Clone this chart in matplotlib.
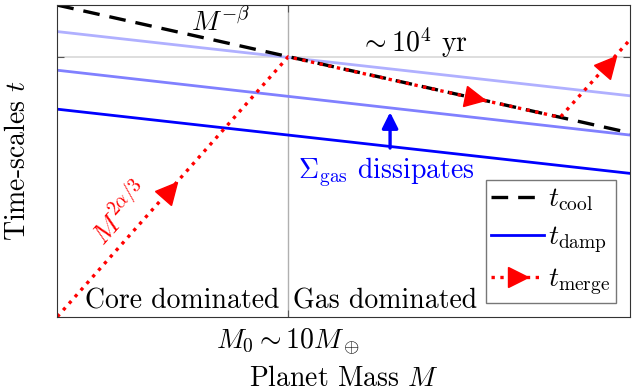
import numpy as np
import matplotlib
matplotlib.use("Agg")
import matplotlib.pyplot as plt
from matplotlib.markers import MarkerStyle
from matplotlib.transforms import Affine2D

plt.rcParams['font.family'] = 'serif'
plt.rcParams['font.serif'] = ['cmr10']
plt.rcParams['mathtext.fontset'] = 'cm'
plt.rcParams['axes.unicode_minus'] = False
plt.rcParams['axes.formatter.use_mathtext'] = True

# schematic values (log axes drawn as linear 0..1)
x_m0 = 0.403
t_ref = 0.834

x_cool = [0.0, 1.0]
t_cool = [1.0, 0.59]

x_damp = [0.0, 1.0]
t_damp_light = [0.915, 0.709]
t_damp_mid = [0.791, 0.583]
t_damp = [0.666, 0.460]

x_merge = [0.0, 0.403, 0.878, 0.9965]
t_merge = [0.0, 0.834, 0.640, 0.882]

x_arrows = [0.197, 0.729, 0.963]
t_arrows = [0.407, 0.701, 0.812]
seg_idx = [0, 1, 2]

x_sigma = 0.581

fig = plt.figure(figsize=(6.39, 3.92), dpi=100)
ax = fig.add_axes([0.0897, 0.192, 0.8963, 0.795])
ax.set_xlim(0, 1)
ax.set_ylim(0, 1)

ax.axvline(x_m0, color='#b0b0b0', lw=1, zorder=0)
ax.axhline(t_ref, color='#d8d8d8', lw=1.2, zorder=0)

ax.plot(x_damp, t_damp_light, color='#b0b0ff', lw=2)
ax.plot(x_damp, t_damp_mid, color='#8080ff', lw=2)
l_damp, = ax.plot(x_damp, t_damp, color='blue', lw=2, label=r'$t_{\rm damp}$')
l_cool, = ax.plot(x_cool, t_cool, color='black', lw=2.4, dashes=(5, 3), label=r'$t_{\rm cool}$')
ax.plot(x_merge, t_merge, color='red', lw=2.4, ls=':')

# direction markers along the merge path
fig.canvas.draw()
for xa, ta, i in zip(x_arrows, t_arrows, seg_idx):
    p0 = ax.transData.transform((x_merge[i], t_merge[i]))
    p1 = ax.transData.transform((x_merge[i + 1], t_merge[i + 1]))
    ang = np.degrees(np.arctan2(p1[1] - p0[1], p1[0] - p0[0]))
    m = MarkerStyle('>', transform=Affine2D().rotate_deg(ang))
    ax.plot([xa], [ta], marker=m, color='red', ms=15, ls='none', zorder=5)

# legend proxy
l_merge, = ax.plot([], [], color='red', lw=2.4, ls=':', marker='>', ms=15,
                   label=r'$t_{\rm merge}$')

t_lo = t_damp[0] + (t_damp[1] - t_damp[0]) * x_sigma
ax.annotate('', xy=(x_sigma, t_lo + 0.11), xytext=(x_sigma, t_lo - 0.005),
            arrowprops=dict(arrowstyle='-|>', color='blue', lw=2.4,
                            mutation_scale=24, shrinkA=0, shrinkB=0))

fs = 20
ax.text(0.284, 0.945, r'$M^{-\beta}$', fontsize=fs, ha='center', va='center')
ax.text(0.623, 0.878, r'$\sim 10^4$ yr', fontsize=fs, ha='center', va='center')
ax.text(0.42, 0.464, r'$\Sigma_{\rm gas}$ dissipates', fontsize=fs, color='blue',
        ha='left', va='center')
ax.text(0.1095, 0.333, r'$M^{2\alpha/3}$', fontsize=fs, color='red', rotation=48,
        ha='center', va='center')
ax.text(0.218, 0.028, 'Core dominated', fontsize=fs, ha='center', va='baseline')
ax.text(0.573, 0.028, 'Gas dominated', fontsize=fs, ha='center', va='baseline')

ax.set_xticks([x_m0])
ax.set_xticklabels([r'$M_0 \sim 10 M_\oplus$'], fontsize=fs)
ax.set_yticks([t_ref])
ax.set_yticklabels([])
ax.tick_params(direction='in', length=5, top=True, right=True, color='#555555', pad=7)
ax.set_xlabel(r'Planet Mass $M$', fontsize=fs, labelpad=6)
ax.set_ylabel(r'Time-scales $t$', fontsize=fs, labelpad=12)
for s in ax.spines.values():
    s.set_color('#333333')

leg = ax.legend(handles=[l_cool, l_damp, l_merge], loc='lower right',
                fontsize=fs, fancybox=False, edgecolor='#777777', framealpha=1,
                handlelength=1.9, handletextpad=0.15, borderpad=0.2, labelspacing=0.4)

fig.savefig('out.png', dpi=100)
